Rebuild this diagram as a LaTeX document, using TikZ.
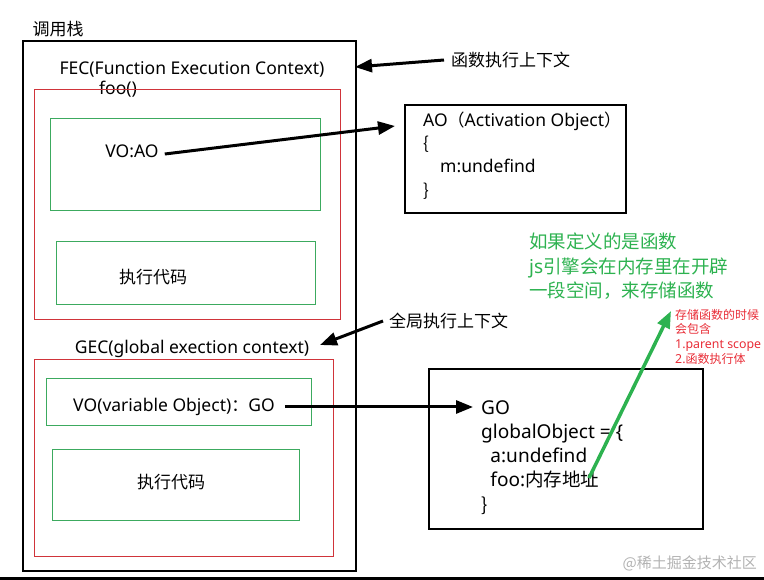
\documentclass[tikz,border=0pt]{standalone}
\usepackage{fontspec}
\setmainfont{Noto Sans CJK SC}
\newfontfamily\lat[Scale=1.03]{Noto Sans}
\usepackage{tikz}
\usetikzlibrary{arrows.meta,positioning}

\definecolor{boxred}{RGB}{208,52,58}
\definecolor{boxgreen}{RGB}{60,170,95}
\definecolor{notegreen}{RGB}{45,178,80}
\definecolor{notered}{RGB}{232,45,55}

\begin{document}
\begin{tikzpicture}[x=1pt,y=-1pt,
  every node/.style={inner sep=0pt},
  stackbox/.style={draw=black,line width=1.4pt,minimum width=#1},
  ctxbox/.style={draw=boxred,line width=0.9pt,minimum width=#1},
  partbox/.style={draw=boxgreen,line width=0.9pt,minimum width=#1},
  objbox/.style={draw=black,line width=1.4pt,minimum width=#1},
  txt/.style={font=\fontsize{17}{20}\selectfont},
  code/.style={font=\fontsize{17}{23.3}\selectfont,align=left,anchor=north west},
  bigarrow/.style={-{Triangle[length=17pt,width=13pt]},line width=3pt},
  greenarrow/.style={-{Triangle[length=17pt,width=13pt]},line width=3.5pt,draw=notegreen}]
\useasboundingbox (0,0) rectangle (764,580);
\fill[black] (0,577) rectangle (764,580);

% call stack
\node[txt] (stk) at (58,29) {调用栈};
\node[stackbox=333pt,minimum height=530pt] (callstack) at (189.5,306) {};
\node[txt] (fec) at (192,69) {\lat FEC(Function Execution Context)};
\node[txt] (foo) at (118,89) {\lat foo()};
\node[ctxbox=306pt,minimum height=230pt] (fecbox) at (187,204) {};
\node[partbox=270pt,minimum height=92pt] (voaobox) at (185,164) {};
\node[txt] (voao) at (132,151) {\lat VO:AO};
\node[partbox=259pt,minimum height=63pt] (exec1) at (185.5,272.5) {};
\node[txt] (exec1txt) at (153,277) {执行代码};

\node[txt] (gec) at (192,349) {\lat GEC(global exection context)};
\node[ctxbox=299pt,minimum height=197pt] (gecbox) at (183.5,457.5) {};
\node[partbox=265pt,minimum height=47pt] (vogobox) at (178.5,401.5) {};
\node[txt] (vogo) at (174,407) {{\lat VO(variable Object)}：{\lat GO}};
\node[partbox=247pt,minimum height=71pt] (exec2) at (175.5,484.5) {};
\node[txt] (exec2txt) at (171,482) {执行代码};

% objects
\node[objbox=221pt,minimum height=108pt] (aobox) at (515.5,159) {};
\node[code] (ao) at (423,111.5) {{\lat AO}（{\lat Activation Object}）\\ \{\\ \hspace{1em}{\lat m:undefind}\\ \}};
\node[objbox=274pt,minimum height=160pt] (gobox) at (566,449) {};
\node[code,font=\fontsize{18.5}{24.3}\selectfont] (go) at (481,400) {{\lat GO}\\ {\lat globalObject = \{}\\ \hspace{0.5em}{\lat a:undefind}\\ \hspace{0.5em}{\lat foo:}内存地址\\ \}};

% labels
\node[txt,anchor=west] (fectag) at (451,60) {函数执行上下文};
\node[txt,anchor=west] (gectag) at (389,321) {全局执行上下文};
\node[anchor=north west,align=left,text=notegreen,font=\fontsize{18.5}{24.5}\selectfont] (fnote) at (529,233)
  {如果定义的是函数\\ {\lat js}引擎会在内存里在开辟\\ 一段空间，来存储函数};
\node[anchor=north west,align=left,text=notered,font=\fontsize{12}{14.6}\selectfont] (rnote) at (675,309)
  {存储函数的时候\\ 会包含\\ {\lat 1.parent scope}\\ {\lat 2.}函数执行体};
\node[anchor=east,text=black!30,font=\fontsize{15}{17}\selectfont] (mark) at (757,563) {@稀土掘金技术社区};

% arrows
\coordinate (aotip) at (395,126);
\coordinate (stacktip) at (355,67);
\coordinate (gectip) at (320,345);
\coordinate (gotip) at (473,407);
\coordinate (foomem) at (589,478);
\coordinate (fnotetip) at (671,311);
\draw[bigarrow] ([xshift=6pt,yshift=-3pt]voao.east) -- (aotip);
\draw[bigarrow] ([xshift=-7pt]fectag.west) -- (stacktip);
\draw[bigarrow] ([xshift=-6pt]gectag.west) -- (gectip);
\draw[bigarrow] ([xshift=10pt]vogo.east) -- (gotip);
\draw[greenarrow] (foomem) -- (fnotetip);
\end{tikzpicture}
\end{document}
